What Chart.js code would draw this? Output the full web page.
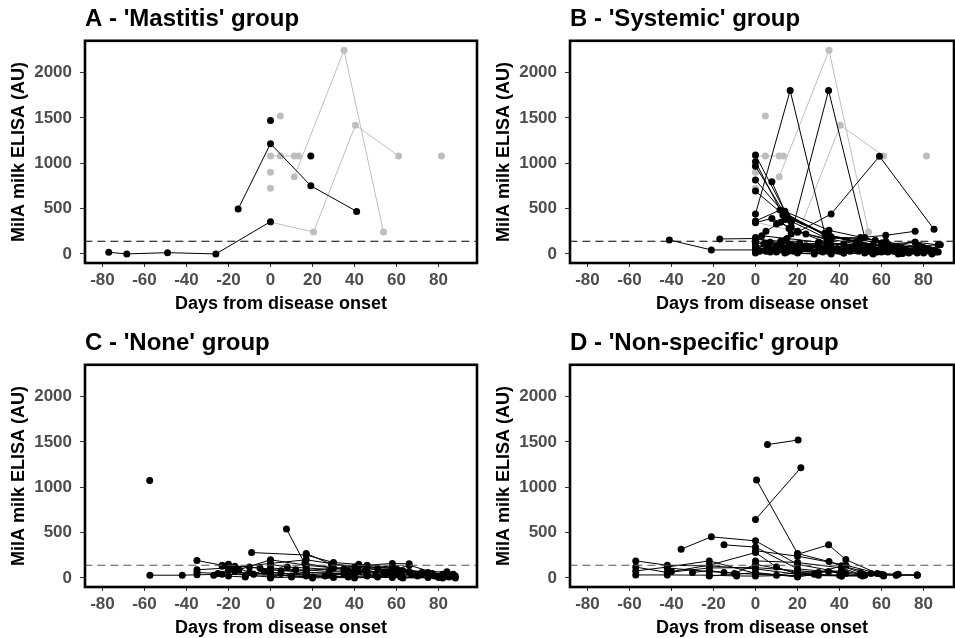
<!DOCTYPE html>
<html>
<head>
<meta charset="utf-8">
<script src="https://cdn.jsdelivr.net/npm/chart.js@4.4.1/dist/chart.umd.min.js"></script>
<style>
  html, body { margin: 0; padding: 0; background: #fff; overflow: hidden; }
  canvas { position: absolute; }
</style>
</head>
<body>
<canvas id="panelA" width="485" height="324" style="left:0;top:0"></canvas>
<canvas id="panelB" width="473" height="324" style="left:485px;top:0"></canvas>
<canvas id="panelC" width="485" height="324" style="left:0;top:324px"></canvas>
<canvas id="panelD" width="473" height="324" style="left:485px;top:324px"></canvas>
<script>
// tick labels and cut-off
const xTicks = [-80, -60, -40, -20, 0, 20, 40, 60, 80];
const yTicks = [0, 500, 1000, 1500, 2000];
const threshold = 140;

// each series = one cow: [day, MilA AU]
const greyLines = [
  [[0, 350], [20.5, 242], [40.4, 1420], [61, 1080]],
  [[11.3, 850], [35, 2245], [53.8, 242]],
  [[0, 1080], [4.7, 1080], [11.3, 1080], [13.3, 1080]],
  [[4.7, 1520]],
  [[0, 900]],
  [[0, 725]],
  [[81.4, 1080]]
];

const mastitisLines = [
  [[-77, 18], [-68.4, 0], [-49, 14], [-26, 0], [0, 356]],
  [[-15.4, 495], [0, 1216], [19.2, 751], [41, 469]],
  [[0, 1472]],
  [[19.2, 1080]]
];

const systemicLines = [
  [[0, 1090], [14, 470], [35, 260], [57, 150], [80, 70]],
  [[0, 1016], [13, 430], [34, 210], [56, 100], [84, 30]],
  [[0, 968], [15, 400], [36, 190], [62, 80], [86, 20]],
  [[0, 814], [14, 440], [35, 200], [60, 120], [82, 50]],
  [[0, 693], [17, 360], [34, 170], [55, 80], [75, 30]],
  [[0, 440], [16.5, 1802], [33, 227], [52, 90], [70, 40]],
  [[17, 220], [34.8, 1802], [52, 180], [68, 70]],
  [[20, 240], [36, 440], [59, 1077], [85, 271]],
  [[7.8, 796], [15, 420], [34, 200], [48, 130]],
  [[0, 363], [11.7, 484], [34, 190], [50, 170], [62, 140]],
  [[0, 345], [7.8, 392], [20, 250], [35, 150]],
  [[-41, 154], [-21, 44], [0, 44], [20, 40], [40, 30], [60, 20], [80, 10]],
  [[-17, 165], [0, 170], [12, 120], [30, 80], [46, 60]],
  [[35, 170], [50, 180], [62, 205], [76, 250]],
  [[0, 140], [10, 90], [20, 60], [40, 40], [62, 30], [85, 20]],
  [[0, 100], [7, 60], [14, 40], [28, 20], [42, 10], [56, 10], [70, 5], [84, 0]],
  [[0, 60], [5, 30], [17, 50], [35, 40], [49, 30], [63, 20], [77, 10]],
  [[2, 30], [10, 80], [21, 120], [35, 90], [52, 60], [70, 40], [86, 30]],
  [[0, 20], [14, 10], [28, 0], [42, 10], [56, 0], [70, 10], [84, 10]],
  [[0, 180], [7, 130], [16, 90], [33, 60], [45, 50], [62, 40], [80, 30]],
  [[0, 160], [12, 140], [21, 110], [35, 120], [49, 80], [66, 70], [81, 60]],
  [[4, 110], [11, 60], [18, 30], [32, 20], [45, 30], [58, 20], [73, 10], [87, 20]],
  [[0, 80], [8, 40], [15, 20], [34, 50], [48, 70], [61, 60], [78, 90], [88, 100]],
  [[1, 40], [14, 150], [24, 90], [36, 80], [55, 70], [70, 60], [83, 50]],
  [[0, 10], [7, 20], [21, 40], [35, 30], [55, 20], [69, 30], [80, 20]],
  [[3, 200], [15, 170], [30, 130], [42, 110], [60, 90], [77, 80]],
  [[9, 50], [17, 100], [26, 70], [39, 60], [52, 40], [66, 30], [85, 40]],
  [[0, 130], [6, 90], [13, 70], [19, 50], [36, 40], [56, 60], [76, 130]],
  [[0, 50], [10, 20], [20, 10], [36, 0], [52, 10], [68, 0], [84, 10]],
  [[0, 90], [16, 60], [34, 110], [50, 90], [63, 110], [76, 130], [87, 100]],
  [[14, 30], [22, 60], [33, 40], [44, 50], [60, 30], [72, 40]],
  [[10, 330], [14, 380], [17, 300], [24, 220], [36, 160]],
  [[5, 250], [12, 350], [16, 280], [35, 120], [48, 100]]
];

const noneLines = [
  [[-57.5, 1074]],
  [[-57.4, 30], [-42, 30], [-35, 35], [-23, 40], [0, 30], [17, 20], [37, 10], [58, 5], [82, 0]],
  [[7.6, 540], [16.3, 160], [30, 110], [45, 80], [60, 50]],
  [[-9, 280], [17, 252], [30, 170], [46, 141], [58, 159], [66, 155]],
  [[-35, 192], [-23, 140], [-10, 120], [0, 90], [17, 60], [40, 40]],
  [[-35, 90], [-20, 110], [0, 160], [17, 200], [40, 120], [58, 80], [82, 40]],
  [[-23, 130], [-15, 90], [0, 200], [17, 140], [35, 100], [42, 150], [58, 120], [66, 70], [84, 67], [88, 22]],
  [[-20, 150], [-10, 60], [0, 40], [10, 20], [20, 10], [46, 20], [62, 10], [80, 5]],
  [[-35, 60], [-25, 50], [-17, 70], [-8, 40], [0, 60], [17, 30], [26, 20], [35, 40], [50, 30], [70, 20]],
  [[-17, 130], [-5, 110], [5, 80], [17, 90], [28, 70], [46, 60], [58, 90], [72, 40], [86, 30]],
  [[-27, 30], [-20, 90], [-12, 30], [0, 10], [17, 60], [35, 50], [46, 30], [60, 40], [78, 20], [85, 10]],
  [[0, 150], [8, 120], [17, 110], [37, 80], [54, 60], [66, 140], [82, 30]],
  [[-3, 70], [5, 50], [17, 40], [28, 30], [40, 60], [55, 50], [67, 40], [84, 20]],
  [[0, 0], [10, 10], [20, 0], [30, 5], [40, 0], [51, 10], [63, 0], [75, 5], [88, 0]],
  [[-20, 20], [-12, 10], [0, 110], [12, 90], [17, 80], [42, 130], [58, 110], [75, 60], [87, 40]],
  [[17, 270], [29, 150], [46, 120], [60, 100], [72, 60]],
  [[35, 90], [42, 70], [51, 100], [63, 80], [77, 50], [84, 30]]
];

const nonSpecificLines = [
  [[5.7, 1470], [20.3, 1521]],
  [[0.5, 1080], [20, 269], [35, 180], [50, 60]],
  [[0, 644], [21.6, 1215]],
  [[-35.4, 317], [-21, 453], [0, 409], [20, 150], [41, 60]],
  [[-15, 365], [0, 340], [20, 100], [43, 50]],
  [[20, 260], [34.8, 365], [43, 202], [58, 50], [68, 40]],
  [[0, 300], [20, 240], [43, 140], [60, 40]],
  [[0, 188], [20, 170], [41, 110], [50, 40]],
  [[-57, 188], [-42, 140], [-22, 133], [0, 100], [20, 40], [40, 30]],
  [[-57, 77], [-42, 120], [-22, 188], [0, 50], [20, 20]],
  [[-57, 33], [-42, 33], [-22, 30], [-9, 22], [0, 20], [20, 30], [41, 22], [51, 33], [61, 33], [67, 33], [77, 30]],
  [[-42, 110], [-22, 70], [-15, 60], [0, 40], [10, 30], [20, 60], [34.8, 70], [51, 33], [61, 20]],
  [[-57, 120], [-42, 60], [-22, 110], [0, 114], [20, 80], [30, 60], [41, 133], [55, 50], [67, 30], [77, 33]],
  [[-22, 22], [-9, 40], [0, 60], [20, 10], [28, 40], [41, 22], [51, 20]],
  [[-30, 60], [-22, 80], [-10, 50], [0, 150], [20, 60], [30, 30], [50, 33], [61, 33], [77, 33]],
  [[-40, 70], [-22, 140], [0, 280], [10, 120], [20, 40], [41, 80], [52, 30]]
];

const panelTitles = [
  "A - 'Mastitis' group",
  "B - 'Systemic' group",
  "C - 'None' group",
  "D - 'Non-specific' group"
];

const fontFamily = "'Liberation Sans', Arial, sans-serif";
Chart.defaults.font.family = fontFamily;

// thick black panel border, drawn over the data like ggplot does
const panelBorder = {
  id: 'panelBorder',
  afterDraw(chart) {
    const { ctx, chartArea: a } = chart;
    ctx.save();
    ctx.strokeStyle = '#000';
    ctx.lineWidth = 2.6;
    ctx.strokeRect(a.left, a.top, a.right - a.left, a.bottom - a.top);
    ctx.restore();
  }
};

function cowDataset(series, color) {
  return {
    data: series.map(p => ({ x: p[0], y: p[1] })),
    showLine: true,
    borderColor: color,
    backgroundColor: color,
    borderWidth: 1,
    pointRadius: 3.5,
    pointBorderWidth: 0,
    tension: 0
  };
}

function drawPanel(id, title, blackSeries, greySeries, xMax, dashColor, rightPad) {
  const datasets = [{
    data: [{ x: -200, y: threshold }, { x: 200, y: threshold }],
    showLine: true,
    borderColor: dashColor,
    borderDash: [8, 5],
    borderWidth: 1.2,
    pointRadius: 0
  }];
  blackSeries.forEach(s => datasets.push(cowDataset(s, '#000')));
  greySeries.forEach(s => datasets.push(cowDataset(s, '#bebebe')));

  const tickFont = { size: 17, weight: 'bold' };
  const titleFont = { size: 18, weight: 'bold' };

  new Chart(document.getElementById(id), {
    type: 'scatter',
    data: { datasets: datasets },
    options: {
      responsive: false,
      animation: false,
      events: [],
      layout: { padding: { left: 8, right: rightPad, top: 0, bottom: 9 } },
      plugins: {
        legend: { display: false },
        tooltip: { enabled: false },
        title: {
          display: true,
          text: title,
          align: 'start',
          fullSize: false,
          color: '#000',
          font: { size: 24, weight: 'bold' },
          padding: { top: 5, bottom: 7 }
        }
      },
      scales: {
        x: {
          type: 'linear',
          min: -88.3,
          max: xMax,
          afterBuildTicks: axis => { axis.ticks = xTicks.map(v => ({ value: v })); },
          afterFit: axis => { axis.height = 52; },
          ticks: {
            font: tickFont, color: '#4d4d4d', padding: 3, maxRotation: 0, autoSkip: false,
            callback: v => String(v)
          },
          grid: { drawOnChartArea: false, tickLength: 4, color: '#333' },
          border: { display: false },
          title: {
            display: true,
            text: 'Days from disease onset',
            color: '#000',
            font: titleFont,
            padding: { top: 2, bottom: 0 }
          }
        },
        y: {
          type: 'linear',
          min: -100,
          max: 2350,
          afterBuildTicks: axis => { axis.ticks = yTicks.map(v => ({ value: v })); },
          afterFit: axis => { axis.width = 77; },
          ticks: { font: tickFont, color: '#4d4d4d', padding: 8, callback: v => String(v) },
          grid: { drawOnChartArea: false, tickLength: 5, color: '#333' },
          border: { display: false },
          title: {
            display: true,
            text: 'MilA milk ELISA (AU)',
            color: '#000',
            font: titleFont,
            padding: { top: 0, bottom: 5 }
          }
        }
      }
    },
    plugins: [panelBorder]
  });
}

drawPanel('panelA', panelTitles[0], mastitisLines, greyLines, 98.3, '#000', 8);
drawPanel('panelB', panelTitles[1], systemicLines, greyLines, 94.5, '#000', 1);
drawPanel('panelC', panelTitles[2], noneLines, [], 98.3, '#555', 8);
drawPanel('panelD', panelTitles[3], nonSpecificLines, [], 94.5, '#555', 1);
</script>
</body>
</html>
